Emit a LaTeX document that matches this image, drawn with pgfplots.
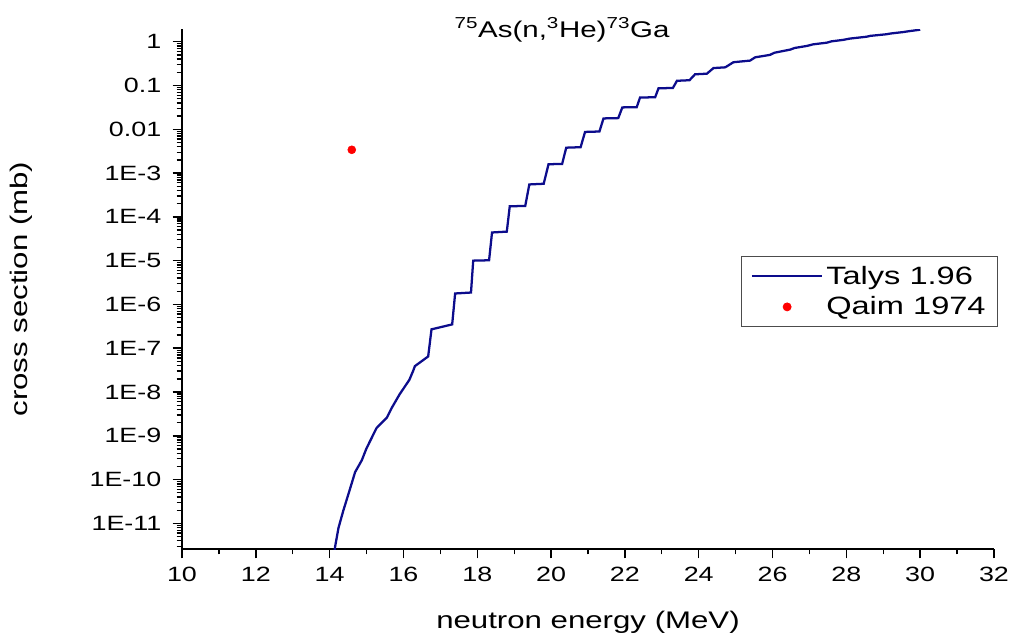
\documentclass[border=0pt]{standalone}
\usepackage{pgfplots}
\pgfplotsset{compat=1.18}
\usepackage{pgfplotstable}
\usepackage{fontspec}
\setmainfont{Liberation Sans}[FakeStretch=1.3]
\definecolor{navyline}{RGB}{12,12,140}
\pgfplotsset{
  talysleg/.style={legend image code/.code={\draw[##1] (0pt,0pt) -- (53pt,0pt);}},
  qaimleg/.style={legend image code/.code={\draw[##1] plot coordinates {(26.5pt,0pt)};}},
}
\pgfplotstableread{
x y
14.10 1.5e-12
14.15 3.0e-12
14.24 7.9e-12
14.37 1.95e-11
14.51 4.7e-11
14.69 1.48e-10
14.87 2.75e-10
15.00 5.2e-10
15.27 1.5e-9
15.55 2.6e-9
15.68 4.3e-9
15.89 8.7e-9
16.16 1.9e-8
16.26 3.0e-8
16.31 3.9e-8
16.67 6.5e-8
16.76 2.7e-7
17.32 3.5e-7
17.40 1.78e-6
17.83 1.87e-6
17.89 1.0e-5
18.32 1.02e-5
18.40 4.4e-5
18.80 4.6e-5
18.88 1.74e-4
19.30 1.78e-4
19.41 5.5e-4
19.80 5.7e-4
19.93 1.59e-3
20.30 1.62e-3
20.41 3.8e-3
20.80 3.9e-3
20.92 8.7e-3
21.31 8.9e-3
21.42 1.77e-2
21.82 1.8e-2
21.93 3.16e-2
22.32 3.2e-2
22.41 5.3e-2
22.82 5.4e-2
22.91 8.6e-2
23.30 8.8e-2
23.41 0.128
23.75 0.132
23.90 0.18
24.22 0.186
24.40 0.25
24.72 0.26
24.94 0.34
25.39 0.37
25.53 0.44
25.93 0.50
26.05 0.56
26.48 0.66
26.60 0.72
26.93 0.80
27.10 0.87
27.47 0.95
27.60 1.02
27.91 1.10
28.10 1.18
28.55 1.30
28.65 1.36
29.09 1.48
29.20 1.54
29.54 1.66
29.70 1.74
30.00 1.88
}\talys
\pgfplotstableread{
x y
14.6 3.4e-3
}\qaim
\begin{document}
\begin{tikzpicture}
\useasboundingbox (0,0) rectangle (758.25pt,474.75pt);
\begin{axis}[
  at={(136.5pt,63pt)}, anchor=south west,
  scale only axis, width=609pt, height=390pt,
  xmin=10, xmax=32, ymode=log, ymin=2.6e-12, ymax=1.95,
  axis x line*=bottom, axis y line*=left,
  axis line style={-, line width=1.3pt},
  tick align=outside, major tick length=7pt, minor tick length=4pt,
  every tick/.style={black, line width=1.1pt},
  every minor tick/.style={black, line width=1.0pt},
  xtick={10,12,...,32}, minor x tick num=1,
  ytick={1e-11,1e-10,1e-9,1e-8,1e-7,1e-6,1e-5,1e-4,1e-3,1e-2,1e-1,1},
  yticklabels={1E-11,1E-10,1E-9,1E-8,1E-7,1E-6,1E-5,1E-4,1E-3,0.01,0.1,1},
  minor ytick={3e-12,4e-12,5e-12,6e-12,7e-12,8e-12,9e-12,
    2e-11,3e-11,4e-11,5e-11,6e-11,7e-11,8e-11,9e-11,
    2e-10,3e-10,4e-10,5e-10,6e-10,7e-10,8e-10,9e-10,
    2e-9,3e-9,4e-9,5e-9,6e-9,7e-9,8e-9,9e-9,
    2e-8,3e-8,4e-8,5e-8,6e-8,7e-8,8e-8,9e-8,
    2e-7,3e-7,4e-7,5e-7,6e-7,7e-7,8e-7,9e-7,
    2e-6,3e-6,4e-6,5e-6,6e-6,7e-6,8e-6,9e-6,
    2e-5,3e-5,4e-5,5e-5,6e-5,7e-5,8e-5,9e-5,
    2e-4,3e-4,4e-4,5e-4,6e-4,7e-4,8e-4,9e-4,
    2e-3,3e-3,4e-3,5e-3,6e-3,7e-3,8e-3,9e-3,
    2e-2,3e-2,4e-2,5e-2,6e-2,7e-2,8e-2,9e-2,
    2e-1,3e-1,4e-1,5e-1,6e-1,7e-1,8e-1,9e-1},
  /pgf/number format/assume math mode=true,
  tick label style={font=\fontsize{15.5}{15.5}\selectfont},
  yticklabel style={xshift=-5pt},
  xticklabel style={yshift=-3pt},
  xlabel={neutron energy (MeV)}, ylabel={cross section (mb)},
  label style={font=\fontsize{18}{18}\selectfont},
  xlabel style={at={(axis description cs:0.5,-0.152)}, anchor=base},
  ylabel style={at={(axis description cs:-0.198,0.5)}, anchor=center},
  every axis title shift=0pt,
  title={\textsuperscript{75}As(n,\textsuperscript{3}He)\textsuperscript{73}Ga},
  title style={at={(axis description cs:0.468,1)}, anchor=base, yshift=-6pt, font=\fontsize{17}{17}\selectfont},
  legend style={at={(1.005,0.563)}, anchor=north east, draw=black!70, line width=0.6pt,
    font=\fontsize{18.8}{20}\selectfont, inner xsep=7pt, inner ysep=5pt, row sep=4pt},
  legend cell align=left,
]
\addplot[navyline, line width=1.7pt, talysleg] table[x=x,y=y] {\talys};
\addlegendentry{Talys 1.96}
\addplot[only marks, mark=*, mark size=3pt, color=red, qaimleg] table[x=x,y=y] {\qaim};
\addlegendentry{Qaim 1974}
\end{axis}
\end{tikzpicture}
\end{document}
